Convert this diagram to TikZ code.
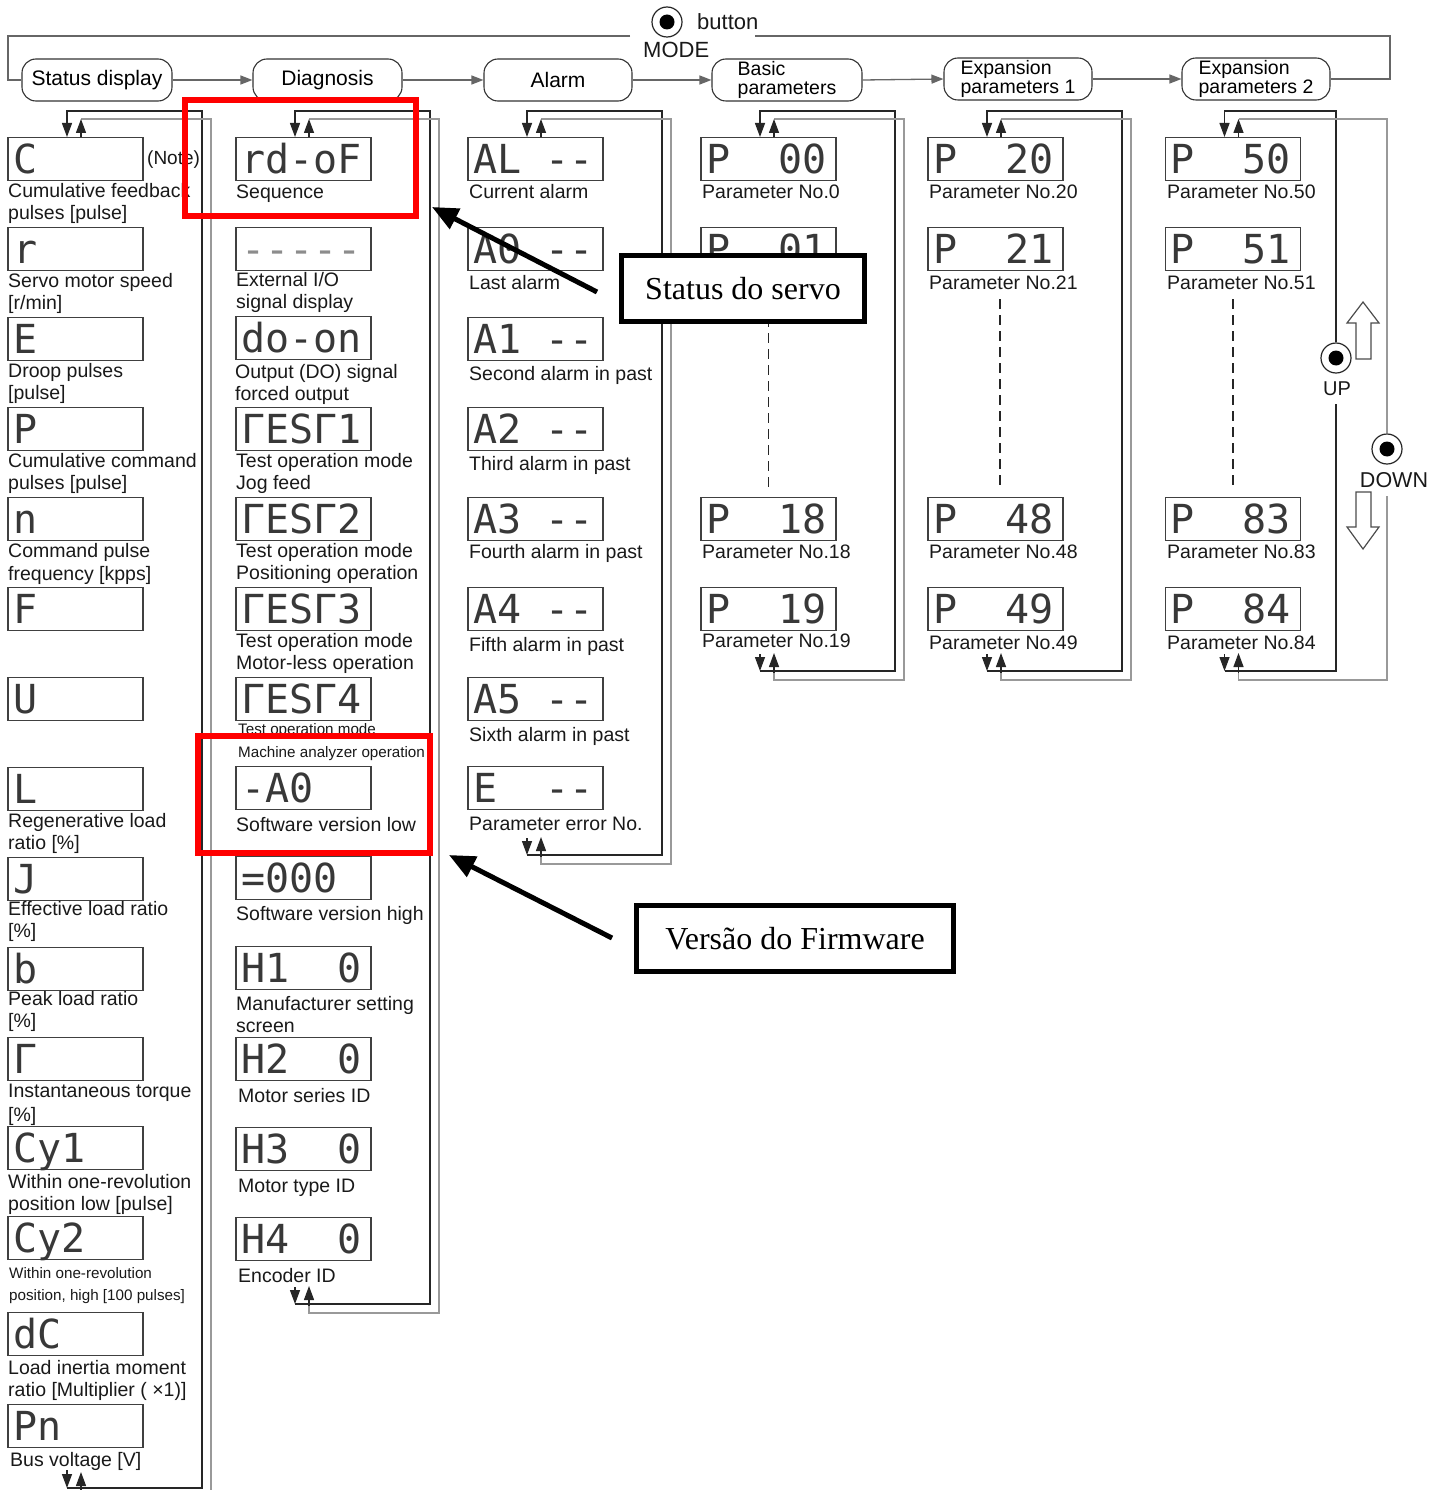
\documentclass[tikz,border=0pt]{standalone}
\usepackage{fontspec}
\setmainfont{Liberation Sans}
\newfontfamily\segfont{DejaVu Sans Mono}
\newfontfamily\annfont{Liberation Serif}
\usetikzlibrary{arrows.meta,calc}
\newcommand\sgp{\phantom{0}}
\newcommand\sd{\mbox{-}}
\newcommand\dsp[4]{\node[disp,anchor=north] (#1) at (#2,#3) {#4};}
\newcommand\lbl[4]{\node[lbl] (#1) at (#2,#3) {#4};}
\newcommand\slbl[4]{\node[lbl,font=\fontsize{15.2}{22}\selectfont] (#1) at (#2,#3) {#4};}
\begin{document}
\begin{tikzpicture}[x=1pt,y=-1pt,
  disp/.style={draw=black!75, line width=1.3pt, minimum height=43pt,
    inner xsep=5pt, inner ysep=0pt, text width=125pt, align=left,
    text height=30pt, text depth=2pt, text=black!78,
    font=\segfont\fontsize{40}{40}\selectfont},
  lbl/.style={anchor=base west, align=left, inner sep=0pt, text=black!90,
    font=\fontsize{19.5}{22}\selectfont},
  hdr/.style={draw=black!80, line width=1.1pt, rounded corners=14pt,
    minimum height=42pt, inner sep=0pt, font=\fontsize{21}{21}\selectfont},
  hdr2/.style={hdr, align=left, font=\fontsize{19.5}{19}\selectfont},
  dk/.style={draw=black!85, line width=1.3pt},
  gy/.style={draw=black!40, line width=1.3pt},
  md/.style={draw=black!60, line width=1.3pt},
  ltip/.style={-{Triangle[length=14pt,width=10pt]}},
  htip/.style={-{Triangle[length=12pt,width=9pt]}},
  dsh/.style={draw=black!85, line width=1.2pt, dash pattern=on 10pt off 6pt},
  btn/.style={circle, draw=black!85, line width=1.2pt, minimum size=30pt,
    inner sep=0pt, fill=white,
    path picture={\fill[black] (path picture bounding box.center) circle[radius=7.5pt];}},
  hol/.style={draw=black!70, line width=1.2pt, fill=white},
  redbox/.style={draw=red, line width=6pt, inner sep=0pt},
  annbox/.style={draw=black, line width=5pt, fill=white, inner sep=0pt,
    minimum height=66pt, font=\annfont\fontsize{32}{32}\selectfont},
  bigarrow/.style={draw=black, line width=5pt, -{Triangle[length=26pt,width=22pt]}}
]
\useasboundingbox (0,0) rectangle (1443,1490);
\clip (0,0) rectangle (1443,1490);
\fill[white] (0,0) rectangle (1443,1490);

% ---------- header ----------
\node[btn] (mb) at (667,22) {};
\node[lbl, font=\fontsize{22}{22}\selectfont] (mbt) at (697,30) {button};
\node[lbl, font=\fontsize{22}{22}\selectfont] (mbm) at (643,58) {MODE};

\node[hdr, minimum width=150pt] (hs) at (97,80) {Status display};
\node[hdr, minimum width=149pt] (hd) at (327.5,80) {Diagnosis};
\node[hdr, minimum width=148pt] (ha) at (558,80) {Alarm};
\node[hdr2, minimum width=150pt] (hb) at (787,80) {Basic\\parameters};
\node[hdr2, minimum width=148pt] (he1) at (1018,79) {Expansion\\parameters 1};
\node[hdr2, minimum width=148pt] (he2) at (1256,79) {Expansion\\parameters 2};

\draw[md,htip] (hs.east) -- (hd.west);
\draw[md,htip] (hd.east) -- (ha.west);
\draw[md,htip] (ha.east) -- (hb.west);
\draw[md,htip] (hb.east) -- (he1.west);
\draw[md,htip] (he1.east) -- (he2.west);
\coordinate (mr1) at (1390,79);
\coordinate (mr2) at (1390,36);
\coordinate (mr3) at (755,36);
\coordinate (ml1) at (630,36);
\coordinate (ml2) at (8,36);
\coordinate (ml3) at (8,80);
\draw[md] (he2.east) -- (mr1) -- (mr2) -- (mr3);
\draw[md] (ml1) -- (ml2) -- (ml3) -- (hs.west);

% ---------- display boxes ----------
\dsp{s1}{75.5}{137}{C}
\dsp{s2}{75.5}{227}{r}
\dsp{s3}{75.5}{317}{E}
\dsp{s4}{75.5}{407}{P}
\dsp{s5}{75.5}{497}{n}
\dsp{s6}{75.5}{587}{F}
\dsp{s7}{75.5}{677}{U}
\dsp{s8}{75.5}{767}{L}
\dsp{s9}{75.5}{857}{J}
\dsp{s10}{75.5}{947}{b}
\dsp{s11}{75.5}{1037}{Γ}
\dsp{s12}{75.5}{1126}{Cy1}
\dsp{s13}{75.5}{1216}{Cy2}
\dsp{s14}{75.5}{1312}{dC}
\dsp{s15}{75.5}{1404}{Pn}

\dsp{d1}{303.5}{137}{rd-oF}
\dsp{d2}{303.5}{227}{\textcolor{black!45}{\sd\sd\sd\sd\sd}}
\dsp{d3}{303.5}{316}{do-on}
\dsp{d4}{303.5}{407}{ΓESΓ1}
\dsp{d5}{303.5}{497}{ΓESΓ2}
\dsp{d6}{303.5}{587}{ΓESΓ3}
\dsp{d7}{303.5}{677}{ΓESΓ4}
\dsp{d8}{303.5}{766}{-A0}
\dsp{d9}{303.5}{856}{=000}
\dsp{d10}{303.5}{946}{H1\sgp\sgp0}
\dsp{d11}{303.5}{1037}{H2\sgp\sgp0}
\dsp{d12}{303.5}{1127}{H3\sgp\sgp0}
\dsp{d13}{303.5}{1217}{H4\sgp\sgp0}

\dsp{a1}{535.5}{137}{AL\sgp\sd\sd}
\dsp{a2}{535.5}{227}{A0\sgp\sd\sd}
\dsp{a3}{535.5}{317}{A1\sgp\sd\sd}
\dsp{a4}{535.5}{407}{A2\sgp\sd\sd}
\dsp{a5}{535.5}{497}{A3\sgp\sd\sd}
\dsp{a6}{535.5}{587}{A4\sgp\sd\sd}
\dsp{a7}{535.5}{677}{A5\sgp\sd\sd}
\dsp{a8}{535.5}{766}{E\sgp\sgp\sd\sd}

\dsp{p1}{768.5}{137}{P\sgp\sgp00}
\dsp{p2}{768.5}{227}{P\sgp\sgp01}
\dsp{p3}{768.5}{497}{P\sgp\sgp18}
\dsp{p4}{768.5}{587}{P\sgp\sgp19}

\dsp{e1}{995.5}{137}{P\sgp\sgp20}
\dsp{e2}{995.5}{227}{P\sgp\sgp21}
\dsp{e3}{995.5}{497}{P\sgp\sgp48}
\dsp{e4}{995.5}{587}{P\sgp\sgp49}

\dsp{q1}{1233}{137}{P\sgp\sgp50}
\dsp{q2}{1233}{227}{P\sgp\sgp51}
\dsp{q3}{1233}{497}{P\sgp\sgp83}
\dsp{q4}{1233}{587}{P\sgp\sgp84}

% ---------- labels (y = baseline of the last line) ----------
\node[lbl, font=\fontsize{19}{22}\selectfont] (note) at (147,165) {(Note)};
\lbl{ls1}{8}{219}{Cumulative feedback\\pulses [pulse]}
\lbl{ls2}{8}{309}{Servo motor speed\\{[r/min]}}
\lbl{ls3}{8}{399}{Droop pulses\\{[pulse]}}
\lbl{ls4}{8}{489}{Cumulative command\\pulses [pulse]}
\node[lbl, font=\fontsize{19.5}{23}\selectfont] (ls5) at (8,580) {Command pulse\\frequency [kpps]};
\lbl{ls8}{8}{849}{Regenerative load\\ratio [\%]}
\lbl{ls9}{8}{937}{Effective load ratio\\{[\%]}}
\lbl{ls10}{8}{1027}{Peak load ratio\\{[\%]}}
\node[lbl, font=\fontsize{19.5}{24}\selectfont] (ls11) at (8,1121) {Instantaneous torque\\{[\%]}};
\lbl{ls12}{8}{1210}{Within one-revolution\\position low [pulse]}
\slbl{ls13}{9}{1300}{Within one-revolution\\position, high [100 pulses]}
\lbl{ls14}{8}{1396}{Load inertia moment\\ratio [Multiplier ( ×1)]}
\lbl{ls15}{10}{1466}{Bus voltage [V]}

\lbl{ld1}{236}{198}{Sequence}
\lbl{ld2}{236}{308}{External I/O\\signal display}
\lbl{ld3}{235}{400}{Output (DO) signal\\forced output}
\lbl{ld4}{236}{489}{Test operation mode\\Jog feed}
\lbl{ld5}{236}{579}{Test operation mode\\Positioning operation}
\lbl{ld6}{236}{669}{Test operation mode\\Motor-less operation}
\slbl{ld7a}{238}{734}{Test operation mode}
\slbl{ld7b}{238}{757}{Machine analyzer operation}
\lbl{ld8}{236}{831}{Software version low}
\lbl{ld9}{236}{920}{Software version high}
\lbl{ld10}{236}{1032}{Manufacturer setting\\screen}
\lbl{ld11}{238}{1102}{Motor series ID}
\lbl{ld12}{238}{1192}{Motor type ID}
\lbl{ld13}{238}{1282}{Encoder ID}

\lbl{la1}{469}{198}{Current alarm}
\lbl{la2}{469}{289}{Last alarm}
\lbl{la3}{469}{380}{Second alarm in past}
\lbl{la4}{469}{470}{Third alarm in past}
\lbl{la5}{469}{558}{Fourth alarm in past}
\lbl{la6}{469}{651}{Fifth alarm in past}
\lbl{la7}{469}{741}{Sixth alarm in past}
\lbl{la8}{469}{830}{Parameter error No.}

\lbl{lp1}{702}{198}{Parameter No.0}
\lbl{lp3}{702}{558}{Parameter No.18}
\lbl{lp4}{702}{647}{Parameter No.19}
\lbl{le1}{929}{198}{Parameter No.20}
\lbl{le2}{929}{289}{Parameter No.21}
\lbl{le3}{929}{558}{Parameter No.48}
\lbl{le4}{929}{649}{Parameter No.49}
\lbl{lq1}{1167}{198}{Parameter No.50}
\lbl{lq2}{1167}{289}{Parameter No.51}
\lbl{lq3}{1167}{558}{Parameter No.83}
\lbl{lq4}{1167}{649}{Parameter No.84}

% ---------- loops ----------
% status display
\draw[dk,ltip] (67,1470) -- (67,1488);
\draw[dk,ltip] (67,1488) -- (202,1488) -- (202,111) -- (67,111) -- ($(s1.north)+(-8.5,0)$);
\draw[gy] (81,119) -- (211,119) -- (211,1497) -- (81,1497) -- (81,1488);
\draw[dk,ltip] ($(s1.north)+(5.5,0)$) -- (81,119);
\draw[dk,ltip] (81,1490) -- (81,1472);
% diagnosis
\draw[dk,ltip] (295,1287) -- (295,1304);
\draw[dk,ltip] (295,1304) -- (430,1304) -- (430,111) -- (295,111) -- ($(d1.north)+(-8.5,0)$);
\draw[gy] (309,119) -- (439,119) -- (439,1313) -- (309,1313) -- (309,1304);
\draw[dk,ltip] ($(d1.north)+(5.5,0)$) -- (309,119);
\draw[dk,ltip] (309,1306) -- (309,1286);
% alarm
\draw[dk,ltip] (527,838) -- (527,855);
\draw[dk,ltip] (527,855) -- (662,855) -- (662,111) -- (527,111) -- ($(a1.north)+(-8.5,0)$);
\draw[gy] (541,119) -- (671,119) -- (671,864) -- (541,864) -- (541,855);
\draw[dk,ltip] ($(a1.north)+(5.5,0)$) -- (541,119);
\draw[dk,ltip] (541,857) -- (541,837);
% basic parameters
\draw[dk,ltip] (760,654) -- (760,671);
\draw[dk,ltip] (760,671) -- (895,671) -- (895,111) -- (760,111) -- ($(p1.north)+(-8.5,0)$);
\draw[gy] (774,119) -- (904,119) -- (904,680) -- (774,680) -- (774,671);
\draw[dk,ltip] ($(p1.north)+(5.5,0)$) -- (774,119);
\draw[dk,ltip] (774,673) -- (774,653);
% expansion 1
\draw[dk,ltip] (987,654) -- (987,671);
\draw[dk,ltip] (987,671) -- (1122,671) -- (1122,111) -- (987,111) -- ($(e1.north)+(-8.5,0)$);
\draw[gy] (1001,119) -- (1131,119) -- (1131,680) -- (1001,680) -- (1001,671);
\draw[dk,ltip] ($(e1.north)+(5.5,0)$) -- (1001,119);
\draw[dk,ltip] (1001,673) -- (1001,653);
% expansion 2 with UP / DOWN
\node[btn] (upb) at (1336,358) {};
\node[lbl, anchor=center, font=\fontsize{20}{20}\selectfont] (upl) at (1337,389) {UP};
\node[btn] (dnb) at (1387,449) {};
\node[lbl, anchor=center, font=\fontsize{21.5}{21.5}\selectfont] (dnl) at (1394,480) {DOWN};
\draw[dk,ltip] (1224.5,654) -- (1224.5,671);
\draw[dk] (1224.5,671) -- (1336,671) -- (1336,404);
\draw[dk,ltip] (upb.north) -- (1336,111) -- (1224.5,111) -- ($(q1.north)+(-8.5,0)$);
\draw[gy] (1238.5,119) -- (1387,119) -- (dnb.north);
\draw[gy] (1387,496) -- (1387,680) -- (1238.5,680) -- (1238.5,671);
\draw[dk,ltip] ($(q1.north)+(5.5,0)$) -- (1238.5,119);
\draw[dk,ltip] (1238.5,673) -- (1238.5,653);
\draw[hol] (1356,359) -- (1371,359) -- (1371,323) -- (1379,323) -- (1363,302) -- (1347,323) -- (1356,323) -- cycle;
\draw[hol] (1356,492) -- (1371,492) -- (1371,527) -- (1379,527) -- (1363,549) -- (1347,527) -- (1356,527) -- cycle;

% dashed continuation
\draw[dsh] ($(p2.south)+(0,30)$) -- ($(p3.north)+(0,-7)$);
\draw[dsh] ($(e2.south)+(4.5,28)$) -- ($(e3.north)+(4.5,-7)$);
\draw[dsh] ($(q2.south)+(0,28)$) -- ($(q3.north)+(0,-7)$);

% ---------- annotations ----------
\node[redbox, minimum width=231pt, minimum height=116pt] (rb1) at (300.5,158) {};
\node[redbox, minimum width=232pt, minimum height=117pt] (rb2) at (314,794.5) {};
\node[annbox, minimum width=243pt] (sds) at (743,288.5) {Status do servo};
\node[annbox, minimum width=317pt] (vf) at (795,938.5) {Versão do Firmware};
\coordinate (a1s) at (597,292);
\coordinate (a1e) at (432,207);
\coordinate (a2s) at (612,938);
\coordinate (a2e) at (449,855);
\draw[bigarrow] (a1s) -- (a1e);
\draw[bigarrow] (a2s) -- (a2e);
\end{tikzpicture}
\end{document}
